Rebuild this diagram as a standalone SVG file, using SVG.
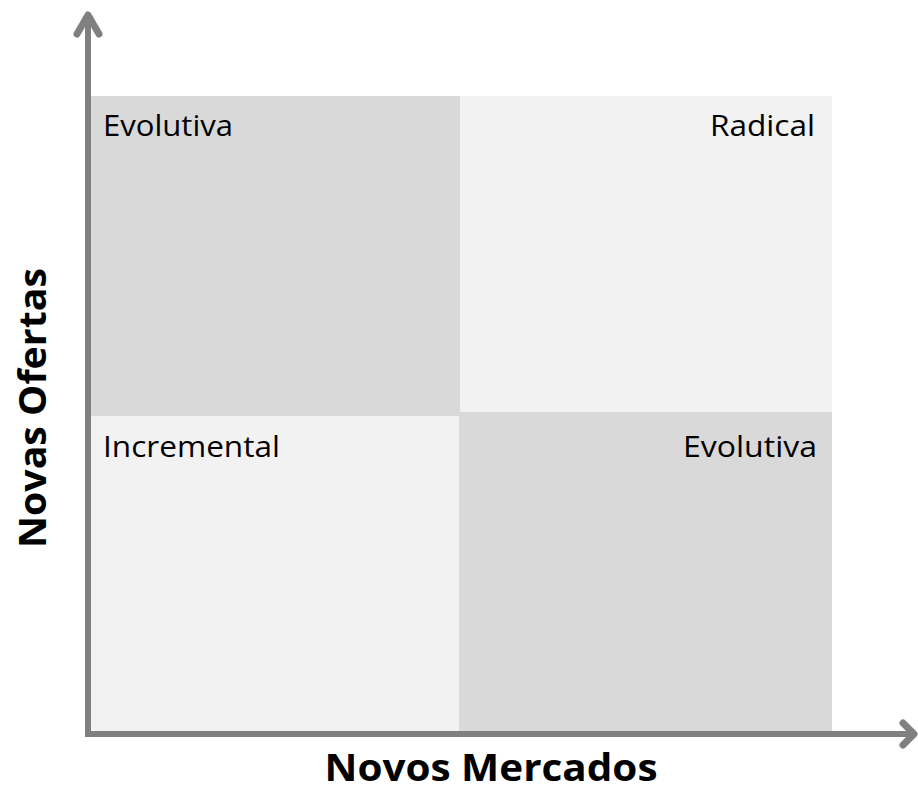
<svg xmlns="http://www.w3.org/2000/svg" width="918" height="791" viewBox="0 0 918 791">
<style>
.q{font-family:"Open Sans","Liberation Sans",sans-serif;font-size:30px;fill:#000}
.t{font-family:"Open Sans","Liberation Sans",sans-serif;font-size:37px;font-weight:bold;fill:#000}
.ax{stroke:#808080;stroke-width:6;fill:none}
.hd{stroke:#808080;stroke-width:7;fill:none;stroke-linecap:round;stroke-linejoin:round}
</style>
<rect width="918" height="791" fill="#fff"/>
<g id="q-evolutiva-tl"><rect x="91" y="96" width="369" height="320" fill="#d9d9d9"/><text class="q" x="103" y="136" textLength="130" lengthAdjust="spacingAndGlyphs">Evolutiva</text></g>
<g id="q-radical"><rect x="460" y="96" width="372" height="316" fill="#f2f2f2"/><text class="q" x="815" y="136" text-anchor="end" textLength="105" lengthAdjust="spacingAndGlyphs">Radical</text></g>
<g id="q-incremental"><rect x="91" y="416" width="368" height="315" fill="#f2f2f2"/><text class="q" x="103" y="457" textLength="177" lengthAdjust="spacingAndGlyphs">Incremental</text></g>
<g id="q-evolutiva-br"><rect x="459" y="412" width="373" height="319" fill="#d9d9d9"/><text class="q" x="817" y="457" text-anchor="end" textLength="134" lengthAdjust="spacingAndGlyphs">Evolutiva</text></g>
<g id="connectors">
<line class="ax" x1="88" y1="16" x2="88" y2="737"/>
<line class="ax" x1="85" y1="734" x2="912" y2="734"/>
<polyline class="hd" points="77,34 88,15 99,34"/>
<polyline class="hd" points="903,723 914,734 903,745"/>
</g>
<g id="label-x"><text class="t" x="491" y="781" font-size="36" text-anchor="middle" textLength="333" lengthAdjust="spacingAndGlyphs">Novos Mercados</text></g>
<g id="label-y"><text class="t" transform="translate(46,408) rotate(-90)" x="0" y="0" text-anchor="middle" textLength="280" lengthAdjust="spacingAndGlyphs">Novas Ofertas</text></g>
</svg>
